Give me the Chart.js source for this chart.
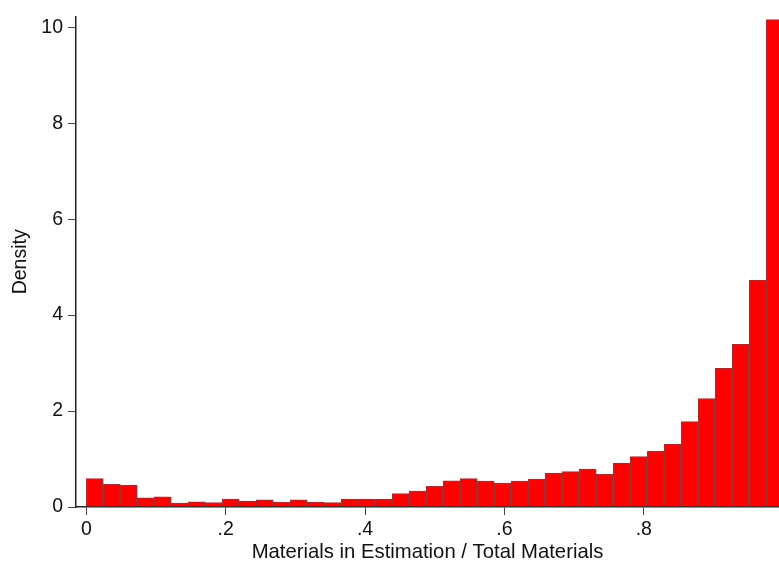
<!DOCTYPE html>
<html>
<head>
<meta charset="utf-8">
<script src="https://cdn.jsdelivr.net/npm/chart.js@4/dist/chart.umd.min.js"></script>
<style>
  body { margin: 0; background: #fff; }
</style>
</head>
<body>
<canvas id="myChart" width="779" height="565"></canvas>
<script>
'use strict';
// density of each of the 41 bins between 0 and 1
let densities = [0.59, 0.475, 0.45, 0.19, 0.21, 0.08, 0.11, 0.09, 0.165, 0.12,
                 0.15, 0.10, 0.15, 0.10, 0.09, 0.165, 0.165, 0.16, 0.28, 0.33,
                 0.43, 0.545, 0.59, 0.54, 0.50, 0.54, 0.58, 0.70, 0.74, 0.79,
                 0.68, 0.91, 1.05, 1.16, 1.31, 1.78, 2.26, 2.89, 3.39, 4.73, 10.16];
let binCount = 41;
let xTicks = [0, 0.2, 0.4, 0.6, 0.8];
let yTicks = [0, 2, 4, 6, 8, 10];
let xTitle = 'Materials in Estimation / Total Materials';
let yTitle = 'Density';

let points = [];
for (let i = 0; i < densities.length; i++) {
    points.push({ x: (i + 0.5) / binCount, y: densities[i] });
}

let fontFam = '"Liberation Sans", Arial, sans-serif';
let ctx = document.getElementById('myChart').getContext('2d');
let myChart = new Chart(ctx, {
    type: 'bar',
    data: {
        datasets: [{
            label: yTitle,
            data: points,
            backgroundColor: '#ff0000',
            borderColor: 'rgb(158,48,52)',
            borderWidth: 1.5,
            barPercentage: 1,
            categoryPercentage: 1
        }]
    },
    options: {
        responsive: false,
        animation: false,
        layout: { padding: { top: 12, right: 0, left: 0, bottom: 0 } },
        plugins: { legend: { display: false }, tooltip: { enabled: false } },
        scales: {
            x: {
                type: 'linear',
                offset: false,
                min: -0.0148,
                max: 0.994,
                afterBuildTicks: function (scale) {
                    scale.ticks = xTicks.map(function (v) { return { value: v }; });
                },
                afterFit: function (scale) { scale.height = 58; },
                grid: { offset: false, drawOnChartArea: false, drawTicks: true, tickLength: 8, tickColor: '#444', tickWidth: 1 },
                border: { display: true, color: '#222', width: 1.5 },
                ticks: {
                    padding: 3,
                    color: '#111',
                    font: { family: fontFam, size: 19.5 },
                    maxRotation: 0,
                    callback: function (v) {
                        return v === 0 ? '0' : String(v).replace(/^0/, '');
                    }
                },
                title: {
                    display: true,
                    text: xTitle,
                    color: '#111',
                    font: { family: fontFam, size: 20.3 },
                    padding: { top: 0, bottom: 0 }
                }
            },
            y: {
                min: 0,
                max: 10.22,
                afterBuildTicks: function (scale) {
                    scale.ticks = yTicks.map(function (v) { return { value: v }; });
                },
                afterFit: function (scale) { scale.width = 76; },
                grid: { drawOnChartArea: false, drawTicks: true, tickLength: 8, tickColor: '#444', tickWidth: 1 },
                border: { display: true, color: '#222', width: 1.5 },
                ticks: {
                    padding: 5,
                    color: '#111',
                    font: { family: fontFam, size: 19.5 }
                },
                title: {
                    display: true,
                    text: yTitle,
                    color: '#111',
                    font: { family: fontFam, size: 19.5 },
                    padding: { top: 9, bottom: 0 }
                }
            }
        }
    }
});
</script>
</body>
</html>
